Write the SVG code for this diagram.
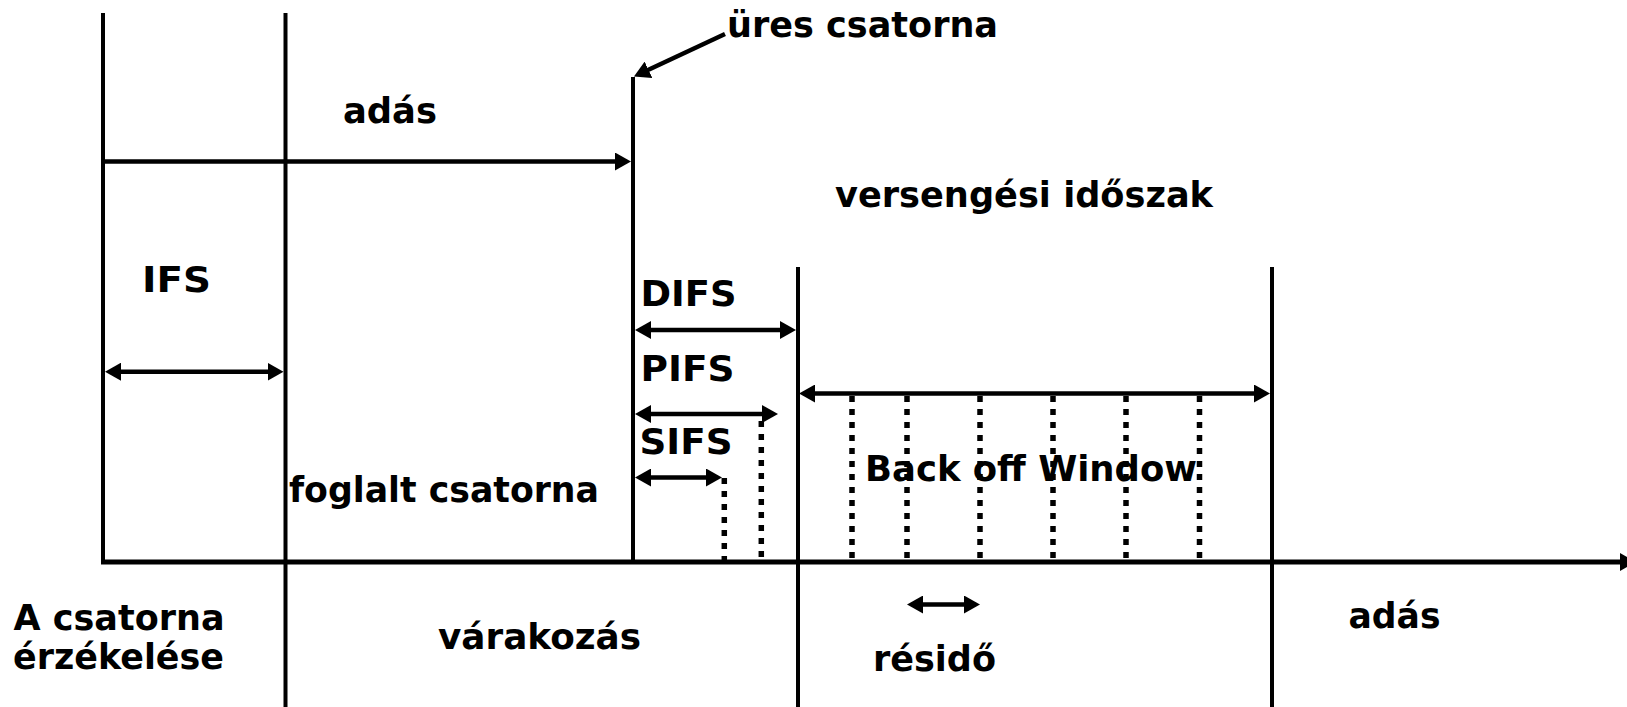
<svg xmlns="http://www.w3.org/2000/svg" width="1627" height="707" viewBox="0 0 1627 707">
<style>
.ln{stroke:#000;stroke-width:4;fill:none}
.ax{stroke:#000;stroke-width:5;fill:none}
.dt{stroke:#000;stroke-width:5.5;stroke-dasharray:6 7;fill:none}
.ar{stroke:#000;stroke-width:4.5;fill:none;marker-end:url(#ah)}
.dar{stroke:#000;stroke-width:4.5;fill:none;marker-start:url(#ah);marker-end:url(#ah)}
text{font-family:"DejaVu Sans",Verdana,sans-serif;font-weight:bold;font-size:36px;fill:#000}
</style>
<defs>
<marker id="ah" viewBox="0 0 16 18" refX="10" refY="9" markerWidth="16" markerHeight="18" markerUnits="userSpaceOnUse" orient="auto-start-reverse">
<path d="M0,0 L16,9 L0,18 Z" fill="#000"/>
</marker>
</defs>
<rect width="1627" height="707" fill="#fff"/>
<g id="timeline">
<line class="ln" x1="103" y1="13" x2="103" y2="562"/>
<line class="ln" x1="285.5" y1="13" x2="285.5" y2="707"/>
<line class="ln" x1="633" y1="77" x2="633" y2="562"/>
<line class="ln" x1="798" y1="267" x2="798" y2="707"/>
<line class="ln" x1="1272" y1="267" x2="1272" y2="707"/>
<line class="ax" x1="101" y1="562" x2="1630" y2="562" style="marker-end:url(#ah)"/>
</g>
<g id="slots">
<line class="dt" x1="724.3" y1="478" x2="724.3" y2="562"/>
<line class="dt" x1="761.3" y1="421" x2="761.3" y2="562"/>
<line class="dt" x1="852" y1="396" x2="852" y2="562"/>
<line class="dt" x1="907" y1="396" x2="907" y2="562"/>
<line class="dt" x1="980" y1="396" x2="980" y2="562"/>
<line class="dt" x1="1053" y1="396" x2="1053" y2="562"/>
<line class="dt" x1="1126" y1="396" x2="1126" y2="562"/>
<line class="dt" x1="1199.5" y1="396" x2="1199.5" y2="562"/>
</g>
<g id="connectors">
<line class="ar" x1="103" y1="161.5" x2="625" y2="161.5"/>
<line class="ar" x1="725" y1="34" x2="639.4" y2="74"/>
<line class="dar" x1="111" y1="371.7" x2="277.5" y2="371.7"/>
<line class="dar" x1="641" y1="330" x2="790" y2="330"/>
<line class="dar" x1="641" y1="414" x2="772" y2="414"/>
<line class="dar" x1="641" y1="477.5" x2="716" y2="477.5"/>
<line class="dar" x1="805" y1="393.5" x2="1264" y2="393.5"/>
<line class="dar" x1="913" y1="604.5" x2="974" y2="604.5"/>
</g>
<g id="labels">
<text id="t-ures" x="727" y="37" textLength="271" lengthAdjust="spacingAndGlyphs">üres csatorna</text>
<text id="t-adas1" x="343" y="123" textLength="94" lengthAdjust="spacingAndGlyphs">adás</text>
<text id="t-verseng" x="835" y="206.5" textLength="378" lengthAdjust="spacingAndGlyphs">versengési időszak</text>
<text id="t-ifs" x="142" y="291.5" textLength="69" lengthAdjust="spacingAndGlyphs">IFS</text>
<text id="t-difs" x="640.5" y="306" textLength="96" lengthAdjust="spacingAndGlyphs">DIFS</text>
<text id="t-pifs" x="640.5" y="381" textLength="94" lengthAdjust="spacingAndGlyphs">PIFS</text>
<text id="t-sifs" x="639.5" y="454" textLength="93" lengthAdjust="spacingAndGlyphs">SIFS</text>
<text id="t-foglalt" x="289" y="502" textLength="310" lengthAdjust="spacingAndGlyphs">foglalt csatorna</text>
<text id="t-backoff" x="865" y="481" textLength="332" lengthAdjust="spacingAndGlyphs">Back off Window</text>
<text id="t-csat1" x="13.5" y="630" textLength="211" lengthAdjust="spacingAndGlyphs">A csatorna</text>
<text id="t-csat2" x="13" y="669" textLength="211" lengthAdjust="spacingAndGlyphs">érzékelése</text>
<text id="t-varak" x="438" y="649" textLength="203" lengthAdjust="spacingAndGlyphs">várakozás</text>
<text id="t-residő" x="873" y="671" textLength="123" lengthAdjust="spacingAndGlyphs">résidő</text>
<text id="t-adas2" x="1348.5" y="628" textLength="92" lengthAdjust="spacingAndGlyphs">adás</text>
</g>
</svg>
